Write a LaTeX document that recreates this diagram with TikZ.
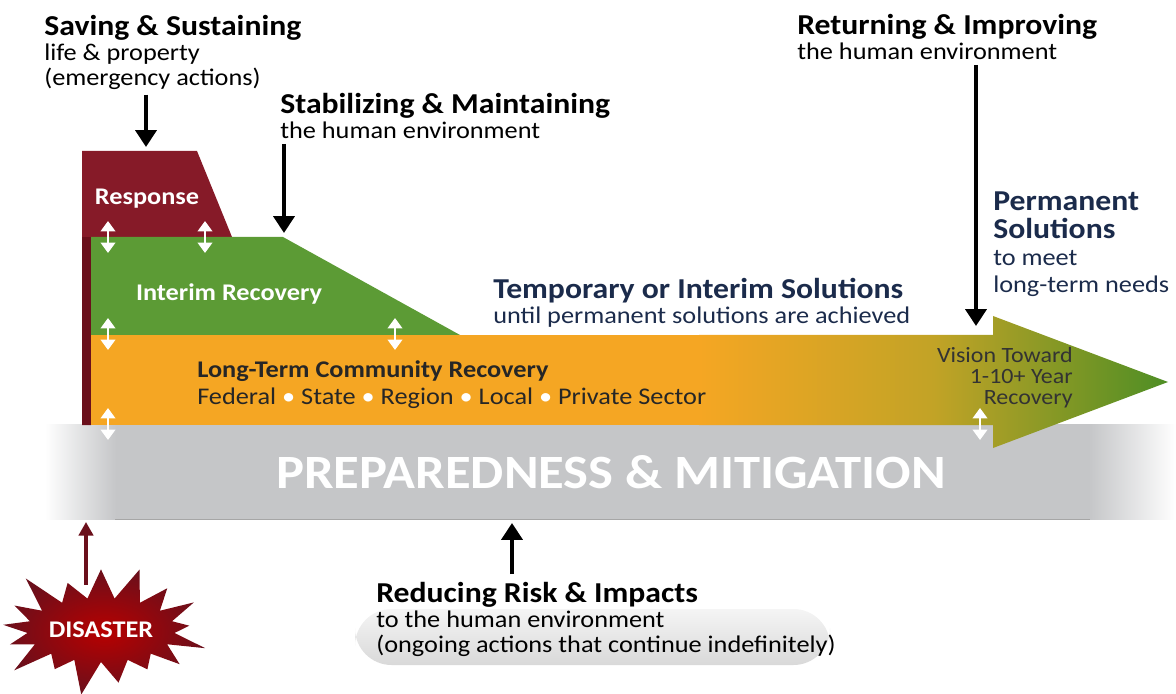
\documentclass[tikz,border=0pt]{standalone}
\usepackage{fontspec}
\setmainfont{Carlito}[FakeStretch=1.1]
\usetikzlibrary{arrows.meta,shapes.symbols}
\definecolor{rspred}{HTML}{861A28}
\definecolor{rspdark}{HTML}{6B0F1B}
\definecolor{intgreen}{HTML}{5C9B35}
\definecolor{ltorange}{HTML}{F5A623}
\definecolor{midolive}{HTML}{C2A326}
\definecolor{tipgreen}{HTML}{4E8E25}
\definecolor{prepgray}{HTML}{C5C6C8}
\definecolor{navy}{HTML}{1B2B4B}
\newcommand\hdline[1]{{\fontsize{20.5}{17.7}\selectfont\bfseries #1}}

\begin{document}
\begin{tikzpicture}[x=0.025cm, y=-0.025cm,
  txt/.style={align=left, inner sep=0pt, anchor=north west, font=\fontsize{17}{17.7}\selectfont},
  lbl/.style={inner sep=0pt, text=white, font=\fontsize{17}{18}\selectfont\bfseries},
  blk/.style={line width=2.8pt, -{Triangle[width=0.52cm,length=0.42cm]}},
  dbl/.style={white, line width=2pt, {Triangle[width=0.36cm,length=0.26cm]}-{Triangle[width=0.36cm,length=0.26cm]}},
  dis/.style={rspdark, line width=2.2pt, -{Triangle[width=0.36cm,length=0.34cm]}}]
  \useasboundingbox (0,0) rectangle (1176,694);

  % preparedness band
  \fill[prepgray] (115,424) rectangle (1090,519);
  \shade[left color=white, right color=prepgray] (45,424) rectangle (116,519);
  \shade[left color=prepgray, right color=white] (1089,424) rectangle (1176,519);
  \draw[gray!70, line width=0.6pt] (115,519) -- (1090,519);
  \node[text=white, font=\fontsize{34}{38}\selectfont\bfseries] (prep) at (611,472) {PREPAREDNESS \& MITIGATION};

  % response, interim, long-term
  \fill[rspred] (82,151) -- (197,151) -- (232,237) -- (91,237) -- (91,425) -- (82,425) -- cycle;
  \fill[rspdark] (82,237) rectangle (91,425);
  \fill[intgreen] (91,237) -- (283,237) -- (460,335) -- (91,335) -- cycle;
  \fill[ltorange] (91,335) rectangle (700,425);
  \shade[left color=ltorange, right color=tipgreen, middle color=midolive]
    (699,335) -- (993,335) -- (993,316) -- (1168,382) -- (993,448) -- (993,425) -- (699,425) -- cycle;
  \coordinate (rsptop) at (146,147);
  \coordinate (inttop) at (284,233);
  \coordinate (vistop) at (976,326);
  \coordinate (prepbot) at (512,523);
  \coordinate (dispoint) at (86,522);

  \node[lbl] (response) at (147,199) {Response};
  \node[lbl] (interim) at (229,294) {Interim Recovery};
  \node[txt, text=black!85] (longterm) at (197,360)
    {\bfseries Long-Term Community Recovery\\[1.5pt]
     Federal \textcolor{white}{\textbullet} State \textcolor{white}{\textbullet} Region
     \textcolor{white}{\textbullet} Local \textcolor{white}{\textbullet} Private Sector};
  \node[txt, anchor=north east, align=right, text=black!80, font=\fontsize{15.5}{14.9}\selectfont] (vision) at (1073,347)
    {Vision Toward\\1-10+ Year\\Recovery};

  \foreach \x/\y in {108/237, 205/237, 108/334, 395/334, 108/424, 980/424}
    \draw[dbl] (\x,\y-16) -- (\x,\y+16);

  % headings
  \node[txt] (saving) at (44,15) {\hdline{Saving \& Sustaining}\\life \& property\\(emergency actions)};
  \node[txt] (stabil) at (280,93) {\hdline{Stabilizing \& Maintaining}\\the human environment};
  \node[txt] (returning) at (797,14) {\hdline{Returning \& Improving}\\the human environment};
  \node[txt, text=navy, font=\fontsize{17}{19.3}\selectfont] (permanent) at (993,192)
    {\hdline{Permanent}\\\hdline{Solutions}\\to meet\\long-term needs};
  \node[txt, text=navy] (temporary) at (493,278)
    {\hdline{Temporary or Interim Solutions}\\until permanent solutions are achieved};

  % reducing
  \shade[top color=gray!8, bottom color=gray!30, rounded corners=26] (355,609) rectangle (830,665);
  \node[txt] (reducing) at (376,582)
    {\hdline{Reducing Risk \& Impacts}\\to the human environment\\(ongoing actions that continue indefinitely)};

  % disaster
  \node[starburst, starburst points=17, starburst point height=1cm,
    minimum width=4.55cm, minimum height=3.6cm, inner sep=0pt,
    inner color=red!72!black, outer color=rspdark,
    text=white, font=\fontsize{17}{18}\selectfont\bfseries] (disaster) at (101,630) {DISASTER};

  % arrows
  \draw[blk] (saving.south -| rsptop) ++(0,5) -- (rsptop);
  \draw[blk] (stabil.south -| inttop) ++(0,5) -- (inttop);
  \draw[blk] (returning.south -| vistop) ++(0,5) -- (vistop);
  \draw[blk] (reducing.north -| prepbot) ++(0,-8) -- (prepbot);
  \draw[dis] (disaster.north -| dispoint) ++(0,16) -- (dispoint);
\end{tikzpicture}
\end{document}
